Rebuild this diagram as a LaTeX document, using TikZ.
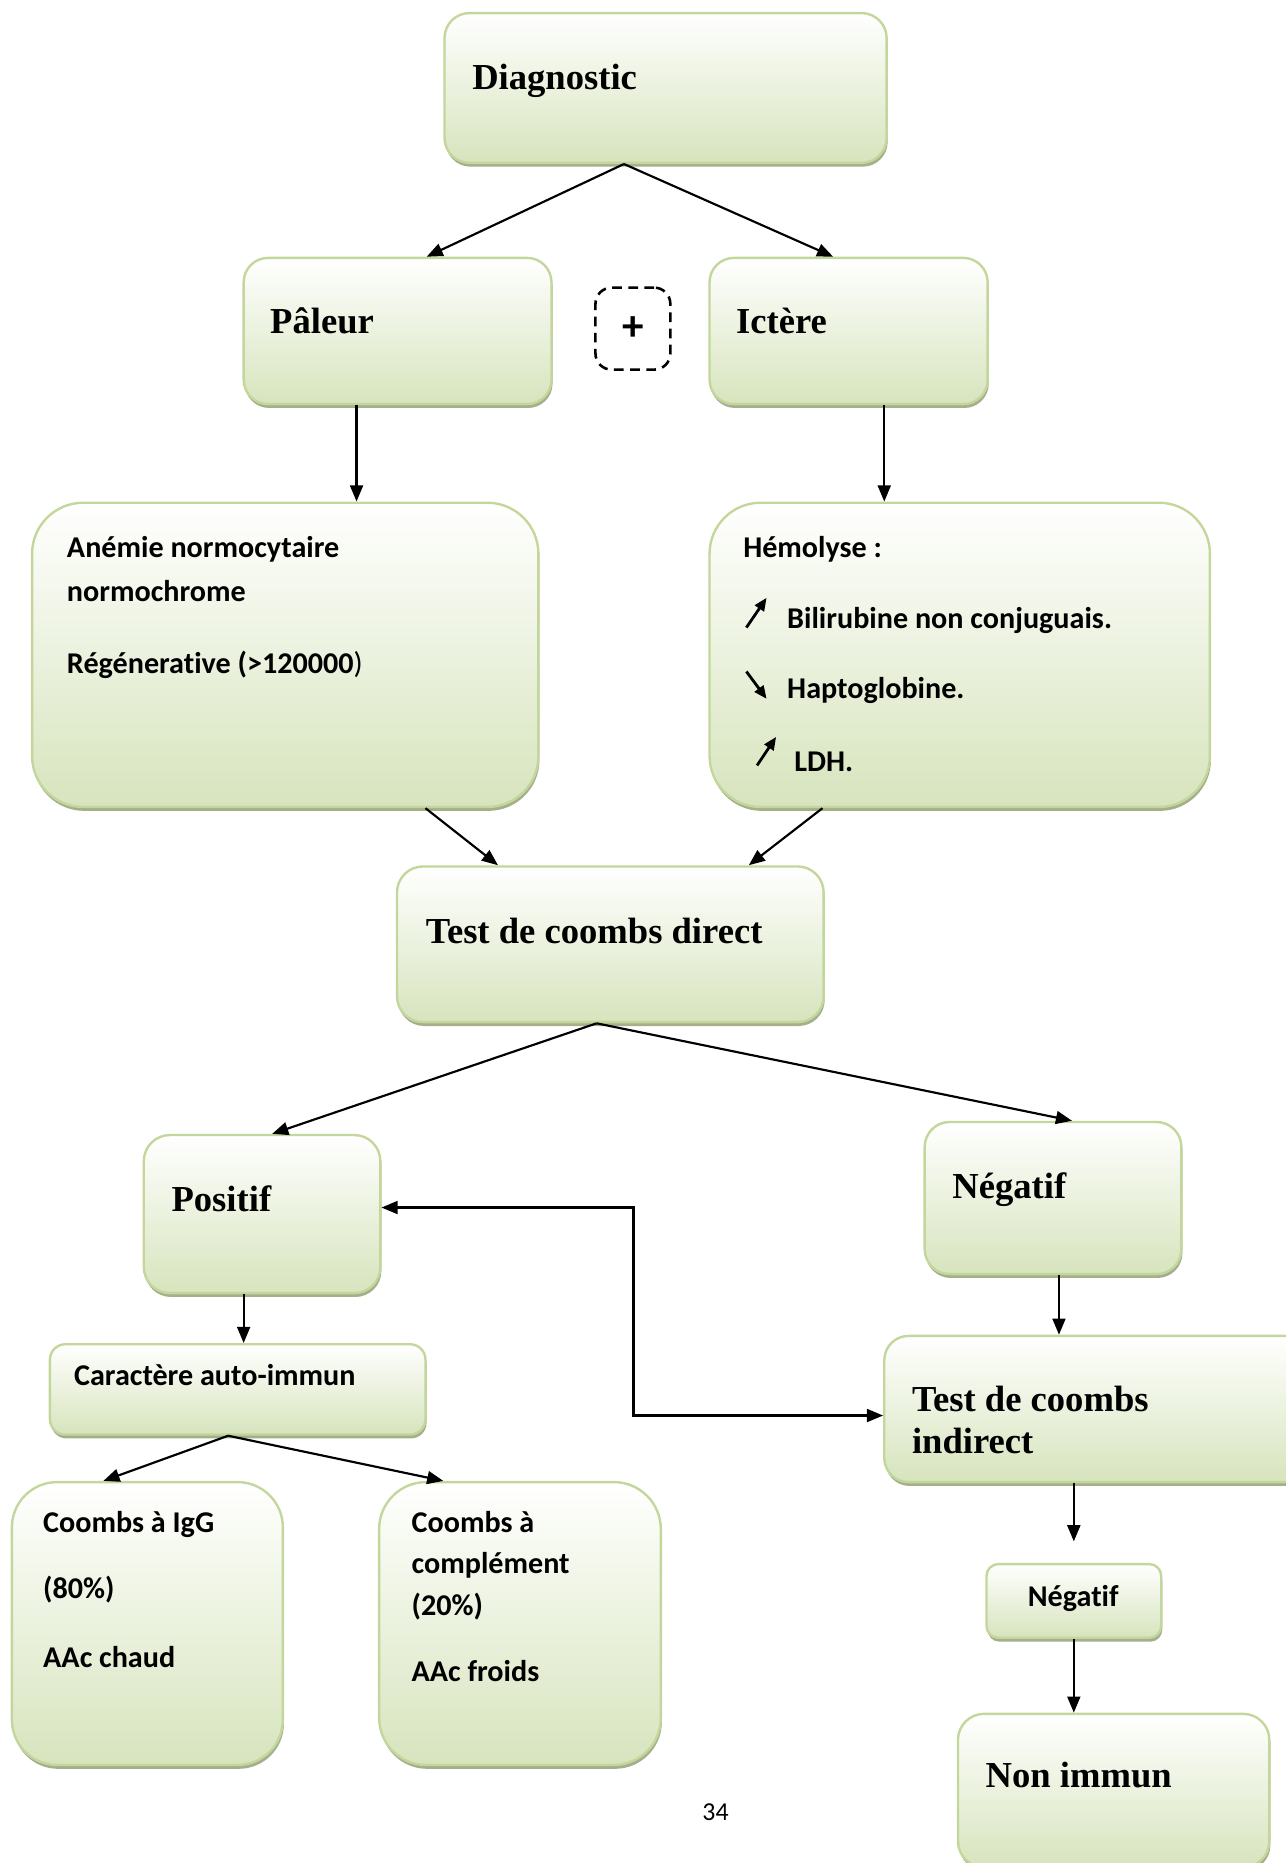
\documentclass[tikz,border=0pt]{standalone}
\usepackage{fontspec}
\setmainfont{Liberation Serif}
\newfontfamily\calibri[Ligatures=NoCommon]{Carlito}
\usetikzlibrary{positioning}
\usetikzlibrary{arrows.meta,shadows}
\definecolor{boxline}{RGB}{195,214,155}
\definecolor{boxfill}{RGB}{215,228,189}
\definecolor{shadowcol}{RGB}{165,175,140}
\newcommand\dpx{0.552pt}

\tikzset{
  box/.style n args={3}{draw=boxline, line width=1.1pt, top color=white, bottom color=boxfill,
    anchor=north west, inner sep=0pt, minimum width=#1*\dpx, minimum height=#2*\dpx,
    rounded corners=#3, drop shadow={shadow xshift=0.5pt, shadow yshift=-1.8pt, fill=shadowcol, opacity=1}},
  ttl/.style={font=\bfseries\fontsize{17}{20}\selectfont, anchor=base west, inner sep=0pt},
  txt/.style={font=\calibri\bfseries\fontsize{14}{17}\selectfont, anchor=base west, inner sep=0pt},
  arr/.style={-{Triangle[length=7.5pt,width=6pt]}, line width=1pt},
  sarr/.style={-{Triangle[length=6pt,width=5pt]}, line width=1.3pt},
}

\begin{document}
\begin{tikzpicture}[x=0.552pt,y=-0.552pt]
  \useasboundingbox (0,0) rectangle (1082,1567.5);

  % boxes
  \node[box={372}{126}{11.6pt}] (diag) at (373,10) {};
  \node[box={259}{123}{11.3pt}] (pal) at (204,216) {};
  \node[box={234}{123}{11.3pt}] (ict) at (596,216) {};
  \node[draw, dashed, dash pattern=on 4.5pt off 3pt, line width=1.2pt, rounded corners=7.5pt,
        minimum width=63*\dpx, minimum height=69*\dpx, inner sep=0pt,
        font=\calibri\bfseries\fontsize{20}{22}\selectfont] (plus) at (532.5,276.5) {+};
  \node[box={426}{256}{23.7pt}] (anem) at (26,422) {};
  \node[box={421}{256}{23.7pt}] (hemo) at (596,422) {};
  \node[box={359}{131}{12.1pt}] (tcd) at (333,728) {};
  \node[box={199}{133}{12.1pt}] (pos) at (120,954) {};
  \node[box={216}{128}{11.6pt}] (neg) at (777,943) {};
  \node[box={316}{76}{7.2pt}] (cara) at (41,1130) {};
  \node[box={357}{123}{11.3pt}] (tci) at (743,1123) {};
  \node[box={228}{238}{21pt}] (igg) at (9,1246) {};
  \node[box={237}{238}{21.8pt}] (comp) at (318,1246) {};
  \node[box={147}{62}{5.5pt}] (neg2) at (829,1315) {};
  \node[box={262}{129}{12.1pt}] (nonim) at (805,1441) {};

  % texts
  \node[ttl] (diagT) at (397,75) {Diagnostic};
  \node[ttl] (palT) at (227,281) {Pâleur};
  \node[ttl] (ictT) at (619,281) {Ictère};
  \node[txt] (anemA) at (56,469) {Anémie normocytaire};
  \node[txt] (anemB) at (56,506) {normochrome};
  \node[txt] (anemC) at (56,567) {Régénerative (>120000\textmd{)}};
  \node[txt] (hemoA) at (625,469) {Hémolyse :};
  \node[txt] (hemoB) at (662,529) {Bilirubine non conjuguais.};
  \node[txt] (hemoC) at (662,588) {Haptoglobine.};
  \node[txt] (hemoD) at (668,649) {LDH.};
  \node[ttl] (tcdT) at (358,794) {Test de coombs direct};
  \node[ttl] (posT) at (144,1019) {Positif};
  \node[ttl] (negT) at (801,1008) {Négatif};
  \node[txt] (caraT) at (62,1166) {Caractère auto-immun};
  \node[ttl] (tciA) at (767,1188) {Test de coombs};
  \node[ttl] (tciB) at (767,1223) {indirect};
  \node[txt] (iggA) at (36,1289) {Coombs à IgG};
  \node[txt] (iggB) at (36,1345) {(80\%)};
  \node[txt] (iggC) at (36,1403) {AAc chaud};
  \node[txt] (compA) at (346,1289) {Coombs à};
  \node[txt] (compB) at (346,1324) {complément};
  \node[txt] (compC) at (346,1359) {(20\%)};
  \node[txt] (compD) at (346,1415) {AAc froids};
  \node[txt, anchor=base] (neg2T) at (903,1352) {Négatif};
  \node[ttl] (nonimT) at (829,1504) {Non immun};
  \node[font=\calibri\fontsize{12}{14}\selectfont, anchor=base] (page) at (602,1532) {34};

  % up / down marks
  \draw[sarr] ([shift={(-34,-1)}]hemoB.base west) -- ++(17,-25);
  \draw[sarr] ([shift={(-34,-23)}]hemoC.base west) -- ++(17,23);
  \draw[sarr] ([shift={(-31,-5)}]hemoD.base west) -- ++(16,-24);

  % connectors
  \draw[arr] ([shift={(-35,0)}]diag.south) -- ([shift={(24.5,0)}]pal.north);
  \draw[arr] ([shift={(-35,0)}]diag.south) -- ([shift={(-13,0)}]ict.north);
  \draw[arr] ([shift={(-34.5,0)}]pal.south) -- ([shift={(-34.5,0)}]pal.south |- anem.north);
  \draw[arr] ([shift={(30,0)}]ict.south) -- ([shift={(30,0)}]ict.south |- hemo.north);
  \draw[arr] ([shift={(118,0)}]anem.south) -- ([shift={(-94.5,0)}]tcd.north);
  \draw[arr] ([shift={(-115.5,0)}]hemo.south) -- ([shift={(116.5,0)}]tcd.north);
  \draw[arr] ([shift={(-11.5,0)}]tcd.south) -- ([shift={(8.5,0)}]pos.north);
  \draw[arr] ([shift={(-11.5,0)}]tcd.south) -- ([shift={(16,0)}]neg.north);
  \draw[arr] ([shift={(-15.5,0)}]pos.south) -- ([shift={(-15.5,0)}]pos.south |- cara.north);
  \draw[arr] ([shift={(5,0)}]neg.south) -- ([shift={(5,0)}]neg.south |- tci.north);
  \draw[arr, {Triangle[length=7.5pt,width=6pt]}-{Triangle[length=7.5pt,width=6pt]}]
    ([shift={(0,-5.5)}]pos.east) -- ++(212,0) |- ([shift={(0,5.5)}]tci.west);
  \draw[arr] ([shift={(-8,0)}]cara.south) -- ([shift={(-37,0)}]igg.north);
  \draw[arr] ([shift={(-8,0)}]cara.south) -- ([shift={(-64.5,0)}]comp.north);
  \draw[arr, shorten >=10pt] (tci.south -| neg2.north) -- (neg2.north);
  \draw[arr] (neg2.south) -- (neg2.south |- nonim.north);
\end{tikzpicture}
\end{document}
